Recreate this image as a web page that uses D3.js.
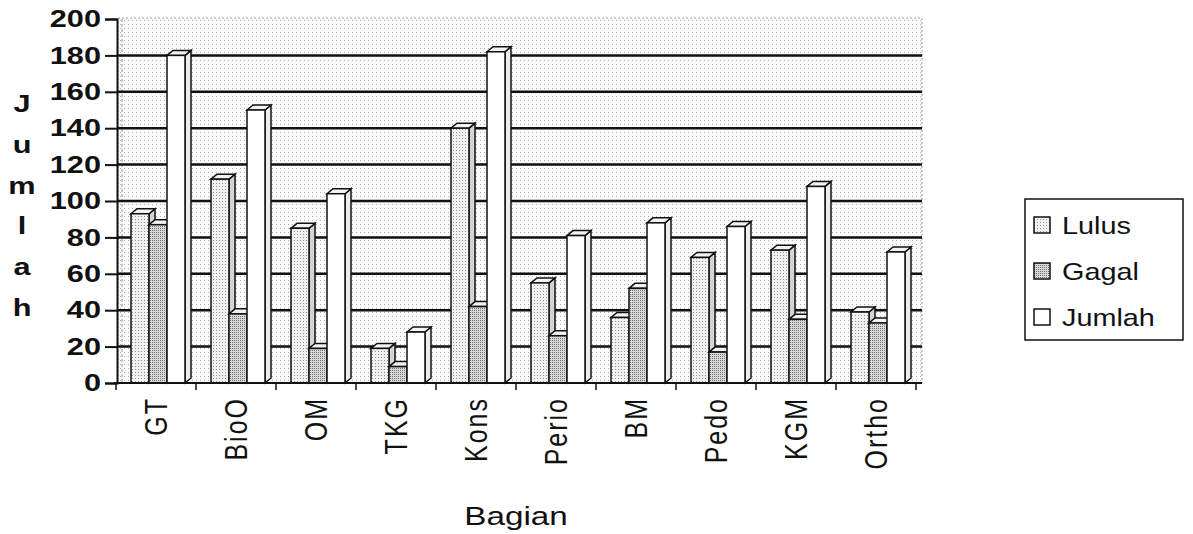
<!DOCTYPE html>
<head>
<script src="https://d3js.org/d3.v7.min.js"></script>
<style>
  body { margin: 0; background: #fff; }
  svg { display: block; }
  text { font-family: "Liberation Sans", Arial, sans-serif; fill: #111; }
</style>
</head>
<body>
<div id="chart"></div>
<script>
// data
var categories = ["GT", "BioO", "OM", "TKG", "Kons", "Perio", "BM", "Pedo", "KGM", "Ortho"];
var lulus  = [93, 112, 85, 19, 140, 55, 36, 69, 73, 39];
var gagal  = [87, 38, 19, 9, 42, 26, 52, 17, 35, 33];
var jumlah = [180, 150, 104, 28, 182, 81, 88, 86, 108, 72];
var seriesNames = ["Lulus", "Gagal", "Jumlah"];
var yTicks = [0, 20, 40, 60, 80, 100, 120, 140, 160, 180, 200];

var width = 1193, height = 534;
var plotLeft = 116, plotRight = 916, plotTop = 19, plotBottom = 383;
var depthX = 6, depthY = -5, barW = 18, groupOffset = 15;
var stretch = 1.28; // the scanned text is wider than it is tall

var svg = d3.select("#chart").append("svg")
  .attr("width", width)
  .attr("height", height);

var defs = svg.append("defs");
function dots(id, bg, dot, size) {
  var p = defs.append("pattern").attr("id", id)
    .attr("width", size).attr("height", size)
    .attr("patternUnits", "userSpaceOnUse");
  p.append("rect").attr("width", size).attr("height", size).attr("fill", bg);
  p.append("rect").attr("width", 1).attr("height", 1).attr("fill", dot);
}
dots("wall", "#fbfbfb", "#b0b0b0", 4);
dots("lulusFill", "#f2f2f2", "#909090", 3);
dots("gagalFill", "#dadada", "#707070", 2);

var x = d3.scaleBand().domain(categories).range([plotLeft, plotRight]);
var y = d3.scaleLinear().domain([0, 200]).range([plotBottom, plotTop]);

// back wall
svg.append("rect")
  .attr("x", plotLeft + 2).attr("y", y(200) - 1)
  .attr("width", plotRight - plotLeft + 4).attr("height", y(0) - y(200) + 1)
  .attr("fill", "url(#wall)")
  .attr("stroke", "#999").attr("stroke-width", 1)
  .attr("stroke-dasharray", "2,2");
svg.append("line")
  .attr("x1", plotLeft + 6).attr("x2", plotLeft + 6)
  .attr("y1", y(200)).attr("y2", y(0))
  .attr("stroke", "#999").attr("stroke-width", 1)
  .attr("stroke-dasharray", "3,2");

// gridlines
svg.append("g").selectAll("line")
  .data(yTicks.filter(d => d > 0 && d < 200))
  .join("line")
  .attr("x1", plotLeft + 2).attr("x2", plotRight + 6)
  .attr("y1", d => y(d)).attr("y2", d => y(d))
  .attr("stroke", "#111").attr("stroke-width", 2.5);

// y axis
var yAxis = svg.append("g")
  .attr("transform", "translate(" + (plotLeft + 1) + ",0)")
  .call(d3.axisLeft(y).tickValues(yTicks).tickSize(12).tickPadding(4));
yAxis.select(".domain").attr("stroke", "#111").attr("stroke-width", 2);
yAxis.selectAll(".tick line").attr("stroke", "#111").attr("stroke-width", 2);
yAxis.selectAll("text")
  .style("font-size", "24px").style("font-weight", "bold").attr("fill", "#111")
  .attr("x", -16 / stretch)
  .attr("transform", "scale(" + stretch + ",1)");

// bars
var rows = categories.map((c, i) => ({cat: c, vals: [lulus[i], gagal[i], jumlah[i]]}));
var fills = ["url(#lulusFill)", "url(#gagalFill)", "#fff"];
var sideFills = ["#d4d4d4", "#b0b0b0", "#ececec"];

rows.forEach(function(r) {
  r.vals.forEach(function(v, k) {
    var bx = x(r.cat) + groupOffset + k * barW;
    var by = y(v), b0 = y(0);
    var g = svg.append("g");
    // side face
    g.append("path")
      .attr("d", "M" + (bx + barW) + "," + b0 +
        "L" + (bx + barW) + "," + by +
        "L" + (bx + barW + depthX) + "," + (by + depthY) +
        "L" + (bx + barW + depthX) + "," + (b0 + depthY) + "Z")
      .attr("fill", sideFills[k]).attr("stroke", "#111").attr("stroke-width", 1.5);
    // top face
    g.append("path")
      .attr("d", "M" + bx + "," + by +
        "L" + (bx + depthX) + "," + (by + depthY) +
        "L" + (bx + barW + depthX) + "," + (by + depthY) +
        "L" + (bx + barW) + "," + by + "Z")
      .attr("fill", "#f4f4f4").attr("stroke", "#111").attr("stroke-width", 1.5);
    // front
    g.append("rect")
      .attr("x", bx).attr("y", by)
      .attr("width", barW).attr("height", b0 - by)
      .attr("fill", fills[k]).attr("stroke", "#111").attr("stroke-width", 1.5);
  });
});

// x axis
var edges = categories.map(c => x(c)).concat([plotRight]);
svg.append("line")
  .attr("x1", plotLeft - 2).attr("x2", plotRight + 6)
  .attr("y1", plotBottom).attr("y2", plotBottom)
  .attr("stroke", "#111").attr("stroke-width", 2);
svg.append("g").selectAll("line")
  .data(edges).join("line")
  .attr("x1", d => d).attr("x2", d => d)
  .attr("y1", plotBottom).attr("y2", plotBottom + 7)
  .attr("stroke", "#111").attr("stroke-width", 1.5);

var xAxis = svg.append("g")
  .attr("transform", "translate(0," + plotBottom + ")")
  .call(d3.axisBottom(x).tickSize(0));
xAxis.select(".domain").remove();
xAxis.selectAll("text")
  .style("font-size", "25px").style("letter-spacing", "2px").attr("fill", "#111")
  .attr("text-anchor", "end")
  .attr("transform", "translate(0,14) scale(" + stretch + ",1) rotate(-90)")
  .attr("x", 0).attr("y", 0).attr("dy", "0.35em");

// axis titles
svg.append("text")
  .attr("transform", "translate(516,525) scale(" + stretch + ",1)")
  .attr("text-anchor", "middle")
  .style("font-size", "26px")
  .text("Bagian");

var yTitle = svg.append("text")
  .attr("transform", "translate(22,112) scale(" + stretch + ",1)")
  .attr("text-anchor", "middle")
  .style("font-size", "24px").style("font-weight", "bold");
yTitle.selectAll("tspan")
  .data("Jumlah".split(""))
  .join("tspan")
  .attr("x", 0)
  .attr("dy", (d, i) => i === 0 ? 0 : 40.8)
  .text(d => d);

// legend
var legend = svg.append("g").attr("transform", "translate(1025,199)");
legend.append("rect")
  .attr("width", 158).attr("height", 141)
  .attr("fill", "#fff").attr("stroke", "#111").attr("stroke-width", 1.5);
var items = legend.selectAll("g.item")
  .data(seriesNames).join("g")
  .attr("transform", (d, i) => "translate(9," + (26 + i * 46) + ")");
items.append("rect")
  .attr("x", 0).attr("y", -8)
  .attr("width", 16).attr("height", 16)
  .attr("fill", (d, i) => fills[i])
  .attr("stroke", "#111").attr("stroke-width", 1.5);
items.append("text")
  .attr("transform", "translate(28,0) scale(1.2,1)")
  .attr("dy", "0.36em")
  .style("font-size", "24px")
  .text(d => d);
</script>
</body>
